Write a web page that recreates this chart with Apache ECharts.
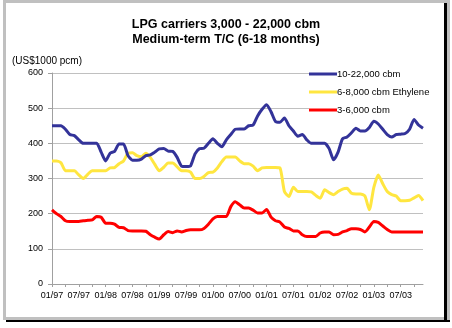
<!DOCTYPE html>
<html>
<head>
<meta charset="utf-8">
<script src="https://cdn.jsdelivr.net/npm/echarts@6/dist/echarts.min.js"></script>
<style>
  html, body { margin: 0; padding: 0; background: #fff; }
  #frame { position: absolute; left: 3px; top: 0; width: 447px; height: 320px; box-sizing: border-box; border: 3px solid #c0c0c0; background: #fff; }
  #rshadow { position: absolute; left: 444px; top: 3px; width: 3px; height: 317px; background: #000; }
  #bshadow { position: absolute; left: 6px; top: 320px; width: 444px; height: 2px; background: #000; }
  #chart { position: absolute; left: 0; top: 0; width: 452px; height: 328px; }
</style>
</head>
<body>
<div id="frame"></div>
<div id="rshadow"></div>
<div id="bshadow"></div>
<div id="chart"></div>
<script>
// Monthly time-charter rates, Jan 1997 - Dec 2003 (US$1000 per calendar month)
const startYear = 1997;
const monthCount = 84;

const months = [];
for (let i = 0; i < monthCount; i++) {
  const y = startYear + Math.floor(i / 12);
  const m = (i % 12) + 1;
  months.push((m < 10 ? '0' : '') + m + '/' + String(y).slice(2));
}

const seriesNames = ['10-22,000 cbm', '6-8,000 cbm Ethylene', '3-6,000 cbm'];

const large = [
  450, 450, 450, 440, 425, 422, 410, 400, 400, 400, 400, 375,
  350, 372, 377, 398, 398, 365, 352, 352, 355, 365, 367, 375,
  384, 385, 378, 377, 360, 335, 334, 336, 370, 385, 386, 400,
  413, 400, 390, 410, 425, 440, 441, 441, 450, 452, 478, 497,
  510, 490, 462, 460, 472, 450, 435, 420, 425, 410, 400, 400,
  400, 400, 385, 353, 375, 413, 418, 430, 443, 435, 435, 445,
  463, 455, 440, 425, 418, 425, 426, 428, 440, 468, 452, 443
];

const ethylene = [
  350, 350, 345, 322, 322, 322, 310, 300, 312, 322, 322, 322,
  322, 330, 331, 342, 350, 372, 373, 365, 362, 372, 360, 340,
  322, 332, 344, 344, 333, 322, 322, 318, 300, 300, 306, 317,
  318, 330, 348, 361, 361, 361, 350, 342, 342, 335, 322, 330,
  331, 331, 331, 330, 263, 249, 275, 263, 263, 263, 262, 252,
  244, 268, 260, 254, 263, 270, 272, 258, 256, 256, 250, 211,
  275, 310, 285, 263, 254, 250, 237, 237, 238, 245, 252, 237
];

const small = [
  211, 200, 192, 180, 178, 178, 178, 180, 181, 182, 192, 190,
  173, 173, 170, 161, 160, 152, 151, 151, 151, 150, 140, 133,
  128, 140, 149, 146, 151, 148, 152, 154, 154, 154, 158, 170,
  185, 192, 192, 192, 220, 234, 225, 216, 216, 210, 202, 202,
  212, 190, 180, 176, 162, 158, 151, 151, 140, 135, 135, 135,
  145, 148, 148, 140, 141, 148, 152, 157, 157, 155, 148, 162,
  178, 175, 165, 155, 148, 148, 148, 148, 148, 148, 148, 148
];

const yTicks = { min: 0, max: 600, interval: 100 };

const colors = ['#333399', '#ffe640', '#ff0000'];
const font = 'Arial, "Liberation Sans", sans-serif';

const chart = echarts.init(document.getElementById('chart'), null, { renderer: 'canvas' });

const lineSeries = [large, ethylene, small].map((data, i) => ({
  name: seriesNames[i],
  type: 'line',
  data: data,
  showSymbol: false,
  symbol: 'none',
  smooth: 0.2,
  lineStyle: { color: colors[i], width: 3 },
  itemStyle: { color: colors[i] },
  z: 3 - i,
  animation: false
}));

chart.setOption({
  animation: false,
  backgroundColor: 'transparent',
  textStyle: { fontFamily: font, color: '#000' },
  title: {
    text: 'LPG carriers 3,000 - 22,000 cbm\nMedium-term T/C (6-18 months)',
    left: 'center',
    top: 12,
    textStyle: { fontSize: 12.5, fontWeight: 'bold', color: '#000', lineHeight: 15, fontFamily: font }
  },
  graphic: [{
    type: 'text',
    left: 12,
    top: 56,
    style: { text: '(US$1000 pcm)', fontSize: 10, fill: '#000', fontFamily: font }
  }],
  legend: {
    orient: 'vertical',
    left: 309,
    top: 69,
    itemWidth: 28,
    itemHeight: 3,
    itemGap: 8,
    icon: 'rect',
    backgroundColor: '#fff',
    padding: [0, 2, 0, 0],
    textStyle: { fontSize: 9.5, color: '#000', fontFamily: font, padding: [0, 0, 0, -5] },
    data: seriesNames
  },
  grid: { left: 52, right: 29, top: 73, bottom: 44, containLabel: false },
  xAxis: {
    type: 'category',
    data: months,
    boundaryGap: false,
    axisLine: { lineStyle: { color: '#a0a0a0', width: 1 } },
    axisTick: { interval: 2, length: 3, lineStyle: { color: '#a0a0a0' } },
    axisLabel: { interval: 5, fontSize: 9, color: '#000', margin: 7, fontFamily: font },
    splitLine: { show: false }
  },
  yAxis: {
    type: 'value',
    min: yTicks.min,
    max: yTicks.max,
    interval: yTicks.interval,
    axisLine: { show: true, lineStyle: { color: '#a0a0a0', width: 1 } },
    axisTick: { show: true, length: 4, lineStyle: { color: '#a0a0a0' } },
    axisLabel: { fontSize: 9, color: '#000', margin: 9, fontFamily: font },
    splitLine: { lineStyle: { color: '#c0c0c0', width: 1 } }
  },
  series: lineSeries
});
</script>
</body>
</html>
